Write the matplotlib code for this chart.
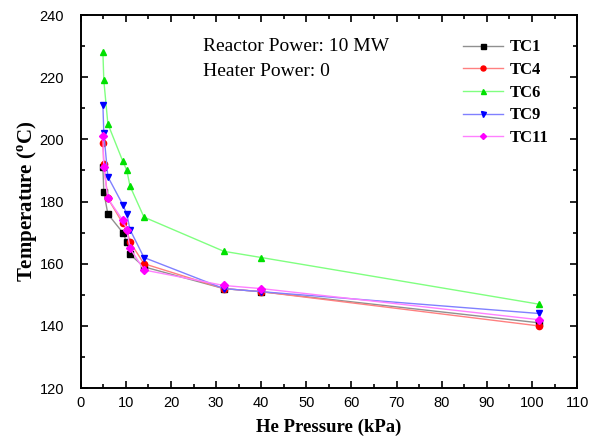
import matplotlib.pyplot as plt
from matplotlib.ticker import MultipleLocator

# He pressure (kPa) for each measurement
pressure = [4.9, 5.1, 6.0, 9.3, 10.2, 10.9, 14.0, 31.7, 40.0, 101.5]

tc1 = [191, 183, 176, 170, 167, 163, 159, 152, 151, 141]
tc4 = [199, 192, 181, 173, 171, 167, 160, 152, 151, 140]
tc6 = [228, 219, 205, 193, 190, 185, 175, 164, 162, 147]
tc9 = [211, 202, 188, 179, 176, 171, 162, 152, 151, 144]
tc11 = [201, 191, 181, 174, 171, 165, 158, 153, 152, 142]

series = [
    ("TC1", tc1, "black", "#909090", "s"),
    ("TC4", tc4, "red", "#ff8080", "o"),
    ("TC6", tc6, "#00e000", "#80ff80", "^"),
    ("TC9", tc9, "blue", "#8080ff", "v"),
    ("TC11", tc11, "magenta", "#ff80ff", "D"),
]

serif = "Liberation Serif"
sans = "Liberation Sans"

fig = plt.figure(figsize=(6.03, 4.43), dpi=100)
ax = fig.add_axes([0.134, 0.124, 0.823, 0.842])

for name, vals, mc, lc, mk in series:
    ax.plot(pressure, vals, color=lc, lw=1.0, marker=mk,
            markersize=4.5 if mk != "D" else 3.8,
            markerfacecolor=mc, markeredgecolor=mc, label=name)

ax.set_xlim(0, 110)
ax.set_ylim(120, 240)
ax.xaxis.set_major_locator(MultipleLocator(10))
ax.xaxis.set_minor_locator(MultipleLocator(5))
ax.yaxis.set_major_locator(MultipleLocator(20))
ax.yaxis.set_minor_locator(MultipleLocator(10))
ax.tick_params(which="both", direction="in", top=True, right=True, width=1.2)
ax.tick_params(which="major", length=5, labelsize=10.5)
ax.tick_params(which="minor", length=3)
ax.tick_params(axis="y", which="major", pad=12)
ax.tick_params(axis="x", which="major", pad=6)
for lab in ax.get_xticklabels() + ax.get_yticklabels():
    lab.set_fontfamily(sans)
for sp in ax.spines.values():
    sp.set_linewidth(1.4)

ax.set_xlabel("He Pressure (kPa)", fontfamily=serif, fontweight="bold",
              fontsize=13.5, labelpad=6)
ax.set_ylabel("Temperature ($^{\\mathregular{o}}$C)", fontfamily=serif,
              fontweight="bold", fontsize=15, labelpad=0)

ax.text(0.247, 0.915, "Reactor Power: 10 MW", transform=ax.transAxes,
        fontfamily=serif, fontsize=14, va="center")
ax.text(0.247, 0.848, "Heater Power: 0", transform=ax.transAxes,
        fontfamily=serif, fontsize=14, va="center")

leg = ax.legend(loc="upper right", bbox_to_anchor=(0.973, 0.975), frameon=False,
                prop={"family": serif, "weight": "bold", "size": 12},
                handlelength=2.4, labelspacing=0.4, handletextpad=0.4,
                markerscale=0.8)

fig.savefig("out.png", dpi=100)
